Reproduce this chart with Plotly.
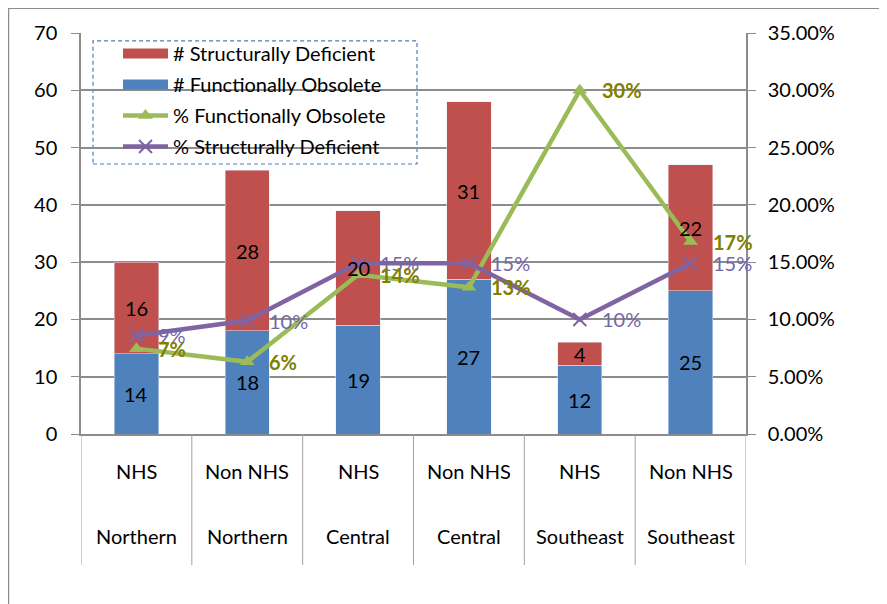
import plotly.graph_objects as go

sub_labels = ["NHS", "Non NHS", "NHS", "Non NHS", "NHS", "Non NHS"]
regions = ["Northern", "Northern", "Central", "Central", "Southeast", "Southeast"]
func_obsolete = [14, 18, 19, 27, 12, 25]
struct_deficient = [16, 28, 20, 31, 4, 22]
pct_func_obsolete = [0.0745, 0.063, 0.139, 0.128, 0.300, 0.168]
pct_struct_deficient = [0.086, 0.099, 0.149, 0.149, 0.100, 0.149]

RED = "#C0504D"
BLUE = "#4F81BD"
GREEN = "#9BBB59"
PURPLE = "#8064A2"
GRID = "#8C8C8C"
FONT = "Lato"

# plot-area pixel frame (screen coordinates in the 887x604 page)
PX0, PX1, PY0, PY1 = 81, 746, 30, 434
W, H = PX1 - PX0, PY1 - PY0


def px(x):
    return (x - PX0) / W


def py(y):
    return (PY1 - y) / H


xs = list(range(len(sub_labels)))

fig = go.Figure()
fig.add_trace(go.Bar(
    x=xs, y=func_obsolete, name="# Functionally Obsolete", marker_color=BLUE,
    width=0.4, showlegend=False))
fig.add_trace(go.Bar(
    x=xs, y=struct_deficient, name="# Structurally Deficient", marker_color=RED,
    width=0.4, showlegend=False))
# legend-only entries drawn as wide colour swatches (like the reference's legend keys)
fig.add_trace(go.Scatter(
    x=[None], y=[None], mode="lines", name="# Structurally Deficient",
    line=dict(color=RED, width=14), legendrank=1, legendgroup="a", hoverinfo="skip"))
fig.add_trace(go.Scatter(
    x=[None], y=[None], mode="lines", name="# Functionally Obsolete",
    line=dict(color=BLUE, width=14), legendrank=2, legendgroup="b", hoverinfo="skip"))
fig.add_trace(go.Scatter(
    x=xs, y=pct_func_obsolete, yaxis="y2", name="% Functionally Obsolete",
    mode="lines+markers", line=dict(color=GREEN, width=4.5),
    marker=dict(symbol="triangle-up", size=13, color=GREEN), legendrank=3, legendgroup="c"))
fig.add_trace(go.Scatter(
    x=xs, y=pct_struct_deficient, yaxis="y2", name="% Structurally Deficient",
    mode="lines+markers", line=dict(color=PURPLE, width=4.5),
    marker=dict(symbol="x-thin", size=13, color=PURPLE, line=dict(color=PURPLE, width=2)),
    legendrank=4, legendgroup="d"))

annotations = []
for i in xs:
    # bar segment value labels, centred in each segment
    annotations.append(dict(x=i, y=func_obsolete[i] / 2, xref="x", yref="y",
                            text=str(func_obsolete[i]), showarrow=False,
                            xanchor="center", yanchor="middle",
                            font=dict(color="black", size=20, family=FONT)))
    annotations.append(dict(x=i, y=func_obsolete[i] + struct_deficient[i] / 2, xref="x", yref="y",
                            text=str(struct_deficient[i]), showarrow=False,
                            xanchor="center", yanchor="middle",
                            font=dict(color="black", size=20, family=FONT)))
    annotations.append(dict(x=i, y=pct_struct_deficient[i], xref="x", yref="y2",
                            text=f"{pct_struct_deficient[i]*100:.0f}%", showarrow=False,
                            xanchor="left", yanchor="middle", xshift=20,
                            font=dict(color="#7466A8", size=20, family=FONT)))
    annotations.append(dict(x=i, y=pct_func_obsolete[i], xref="x", yref="y2",
                            text=f"<b>{pct_func_obsolete[i]*100:.0f}%</b>", showarrow=False,
                            xanchor="left", yanchor="middle", xshift=20,
                            font=dict(color="#808000", size=20, family=FONT)))
    annotations.append(dict(x=i, y=py(471), xref="x", yref="paper", text=sub_labels[i],
                            showarrow=False, yanchor="middle",
                            font=dict(color="black", size=20, family=FONT)))
    annotations.append(dict(x=i, y=py(537), xref="x", yref="paper", text=regions[i],
                            showarrow=False, yanchor="middle",
                            font=dict(color="black", size=20, family=FONT)))

shapes = []
for i in range(len(xs) + 1):
    shapes.append(dict(type="line", xref="x", yref="paper", x0=i - 0.5, x1=i - 0.5,
                       y0=0, y1=py(566), line=dict(color="#A0A0A0", width=1)))
# legend dashed box
shapes.append(dict(type="rect", xref="paper", yref="paper",
                   x0=px(93), x1=px(417), y0=py(162), y1=py(38),
                   line=dict(color="#4A7EBB", width=1.2, dash="4px,3px"),
                   fillcolor="white", layer="below"))
# outer chart border
shapes.append(dict(type="line", xref="paper", yref="paper", x0=px(8.5), x1=px(8.5),
                   y0=py(5), y1=py(610), line=dict(color="#8C8C8C", width=1.5)))
shapes.append(dict(type="line", xref="paper", yref="paper", x0=px(8), x1=px(900),
                   y0=py(5), y1=py(5), line=dict(color="#8C8C8C", width=1.5)))

# the page body has an 8px margin, so the figure starts at (8, 8)
fig.update_layout(
    width=879, height=596,
    margin=dict(l=PX0 - 8, r=887 - PX1, t=PY0 - 8, b=604 - PY1),
    paper_bgcolor="white", plot_bgcolor="white",
    barmode="stack",
    font=dict(family=FONT, size=20, color="black"),
    showlegend=True,
    legend=dict(x=px(118), y=py(31), xanchor="left", yanchor="top",
                bgcolor="rgba(0,0,0,0)", borderwidth=0, traceorder="grouped",
                tracegroupgap=2, itemwidth=45,
                font=dict(size=20, family=FONT, color="black")),
    xaxis=dict(range=[-0.5, 5.5], showticklabels=False, showgrid=False, zeroline=False,
               showline=True, linecolor=GRID, linewidth=1.5, ticks=""),
    yaxis=dict(range=[0, 70], dtick=10, showgrid=True, gridcolor=GRID, gridwidth=1.5,
               zeroline=False, showline=True, linecolor=GRID, linewidth=1.5,
               ticks="outside", ticklen=8, tickcolor=GRID, ticklabelstandoff=10,
               tickfont=dict(size=20, family=FONT)),
    yaxis2=dict(range=[0, 0.35], dtick=0.05, tickformat=".2%", overlaying="y", side="right",
                showgrid=False, zeroline=False, showline=True, linecolor=GRID, linewidth=1.5,
                ticks="outside", ticklen=8, tickcolor=GRID, ticklabelstandoff=8,
                tickfont=dict(size=20, family=FONT)),
    annotations=annotations, shapes=shapes,
)

fig.write_html("out.html")
